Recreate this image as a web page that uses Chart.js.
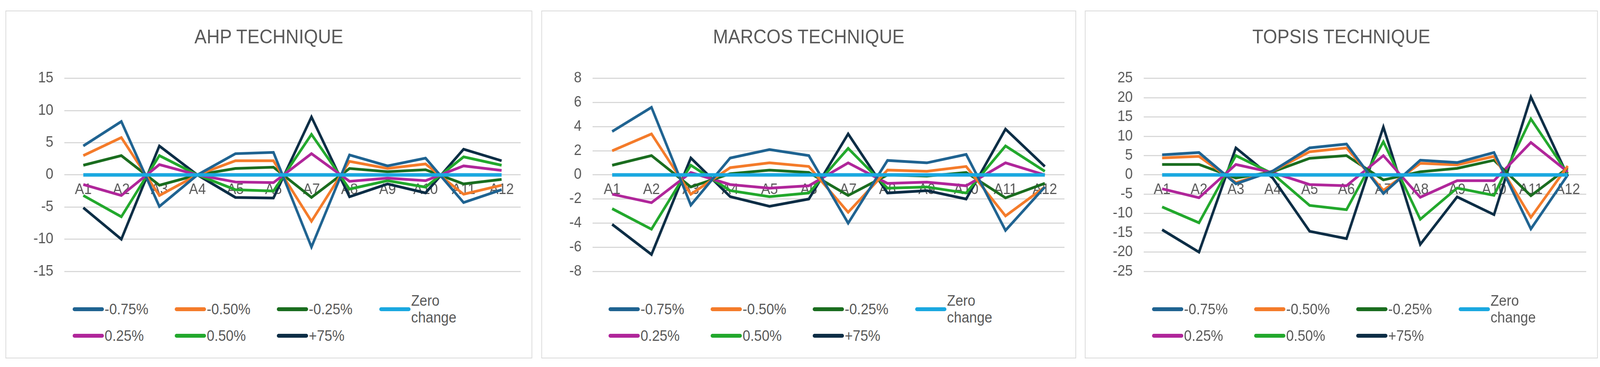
<!DOCTYPE html>
<html>
<head>
<meta charset="UTF-8">
<script src="https://cdn.jsdelivr.net/npm/chart.js"></script>
<style>
  html, body { margin: 0; padding: 0; background: #fff; overflow: hidden; }
  #stage { position: absolute; left: 0; top: 0; width: 4404px; height: 940px; transform-origin: 0 0;
           font-family: 'Liberation Sans Narrow', 'Liberation Sans', Arial, sans-serif; }
  .panel { position: absolute; top: 27px; height: 891px; border: 2px solid #d9d9d9; background: #fff; box-sizing: border-box; }
  .title { position: absolute; top: 36px; left: 0; right: 0; text-align: center; font-size: 50px; color: #595959; }
  .cv { position: absolute; left: 0; right: 0; top: 119px; height: 600px; }
  .legend { position: absolute; left: 183px; top: 741px; display: grid; grid-template-columns: 281px 281px 282px 300px; row-gap: 24px; }
  .item { display: flex; align-items: center; font-size: 38px; color: #595959; height: 44px; }
  .sw { width: 86px; height: 10px; border-radius: 5px; margin-right: 2px; }
</style>
</head>
<body>
<div id="stage">
<div class="panel" id="p0" style="left:15px;width:1450px;"><div class="title">AHP TECHNIQUE</div><div class="cv"><canvas id="c0"></canvas></div><div class="legend"></div></div>
<div class="panel" id="p1" style="left:1490px;width:1472px;"><div class="title">MARCOS TECHNIQUE</div><div class="cv"><canvas id="c1"></canvas></div><div class="legend"></div></div>
<div class="panel" id="p2" style="left:2986px;width:1412px;"><div class="title">TOPSIS TECHNIQUE</div><div class="cv"><canvas id="c2"></canvas></div><div class="legend"></div></div>
</div>
<script>
// fit the 4404x940 design to whatever the window really is
const stage = document.getElementById('stage');
stage.style.transform = 'scale(' + (window.innerWidth / 4404) + ',' + (window.innerHeight / 940) + ')';

// categories and series
const labels = ['A1','A2','A3','A4','A5','A6','A7','A8','A9','A10','A11','A12'];
const seriesNames = ['-0.75%', '-0.50%', '-0.25%', 'Zero change', '0.25%', '0.50%', '+75%'];
const seriesColors = ['#1f6391', '#f47b2a', '#1a6d1f', '#1aa8e0', '#b0269a', '#22a82c', '#0c2d45'];
const zero = [0,0,0,0,0,0,0,0,0,0,0,0];

// AHP
const ahpM75 = [4.5, 8.3, -4.9, 0, 3.3, 3.5, -11.2, 3.1, 1.4, 2.6, -4.3, -2.3];
const ahpM50 = [3.0, 5.8, -3.2, 0, 2.2, 2.2, -7.2, 2.1, 1.0, 1.7, -3.0, -1.6];
const ahpM25 = [1.5, 3.0, -1.6, 0, 1.0, 1.2, -3.5, 1.0, 0.5, 0.8, -1.4, -0.7];
const ahpP25 = [-1.5, -3.2, 1.6, 0, -1.1, -1.2, 3.3, -1.0, -0.5, -0.9, 1.4, 0.7];
const ahpP50 = [-3.2, -6.5, 3.0, 0, -2.3, -2.5, 6.3, -2.2, -0.9, -1.9, 2.8, 1.5];
const ahpP75 = [-5.1, -10.0, 4.5, 0, -3.5, -3.6, 9.0, -3.4, -1.4, -2.8, 4.0, 2.2];

// MARCOS
const marM75 = [3.6, 5.6, -2.5, 1.4, 2.1, 1.6, -4.0, 1.2, 1.0, 1.7, -4.6, -1.0];
const marM50 = [2.0, 3.4, -1.6, 0.6, 1.0, 0.7, -3.1, 0.4, 0.3, 0.7, -3.4, -1.0];
const marM25 = [0.8, 1.6, -1.0, 0.1, 0.4, 0.2, -1.7, 0.0, -0.1, 0.2, -1.9, -0.7];
const marP25 = [-1.6, -2.3, 0.2, -0.8, -1.1, -0.9, 1.0, -0.7, -0.6, -0.9, 1.0, 0.0];
const marP50 = [-2.8, -4.5, 0.8, -1.3, -1.8, -1.5, 2.2, -1.1, -1.0, -1.5, 2.4, 0.3];
const marP75 = [-4.1, -6.6, 1.4, -1.8, -2.6, -2.0, 3.4, -1.5, -1.3, -2.0, 3.8, 0.7];

// TOPSIS
const topM75 = [5.2, 5.8, -2.3, 1.0, 7.0, 8.0, -4.8, 3.8, 3.2, 5.8, -14.0, 0];
const topM50 = [4.4, 4.8, -2.0, 1.0, 6.0, 7.0, -4.0, 3.0, 2.6, 4.8, -11.0, 2.3];
const topM25 = [2.7, 2.7, -0.8, 0.8, 4.3, 5.0, -1.3, 0.8, 1.7, 3.8, -5.4, 1.8];
const topP25 = [-3.6, -5.9, 2.7, 0.6, -2.5, -2.8, 5.0, -5.8, -1.5, -1.5, 8.4, 0.8];
const topP50 = [-8.3, -12.4, 5.0, 0.3, -7.9, -9.0, 8.6, -11.5, -3.4, -5.3, 14.5, 0.3];
const topP75 = [-14.2, -20.0, 7.0, -0.8, -14.6, -16.5, 12.4, -18.0, -5.7, -10.3, 20.2, -0.3];

// y axis ranges
const yAxes = [
  { min: -15, max: 15, step: 5 },
  { min: -8, max: 8, step: 2 },
  { min: -25, max: 25, step: 5 }
];

const charts = [
  [ahpM75, ahpM50, ahpM25, zero, ahpP25, ahpP50, ahpP75],
  [marM75, marM50, marM25, zero, marP25, marP50, marP75],
  [topM75, topM50, topM25, zero, topP25, topP50, topP75]
];

const font = { family: "'Liberation Sans Narrow', 'Liberation Sans', Arial, sans-serif", size: 38 };

charts.forEach((data, i) => {
  const ds = data.map((d, k) => ({
    label: seriesNames[k], data: d, borderColor: seriesColors[k], backgroundColor: seriesColors[k],
    borderWidth: k == 3 ? 9 : 7, pointRadius: 0, tension: 0, order: k == 3 ? 0 : 1
  }));
  new Chart(document.getElementById('c' + i), {
    type: 'line',
    data: { labels: labels, datasets: ds },
    options: {
      responsive: true, maintainAspectRatio: false, animation: false,
      layout: { padding: { right: 30, left: 45, top: 10, bottom: 10 } },
      plugins: { legend: { display: false }, tooltip: { enabled: false } },
      scales: {
        x: { position: { y: 0 }, offset: true, grid: { display: false }, border: { display: false },
             ticks: { color: '#595959', font: font, maxRotation: 0, autoSkip: false, padding: 8 } },
        y: { min: yAxes[i].min, max: yAxes[i].max, grid: { color: '#d9d9d9', lineWidth: 3, drawTicks: false },
             border: { display: false },
             ticks: { stepSize: yAxes[i].step, color: '#595959', font: font, padding: 30 } }
      }
    }
  });
  const leg = document.querySelector('#p' + i + ' .legend');
  seriesNames.forEach((n, k) => {
    leg.insertAdjacentHTML('beforeend', '<div class="item"><span class="sw" style="background:' + seriesColors[k] + '"></span>' + n + '</div>');
  });
});
</script>
</body>
</html>
